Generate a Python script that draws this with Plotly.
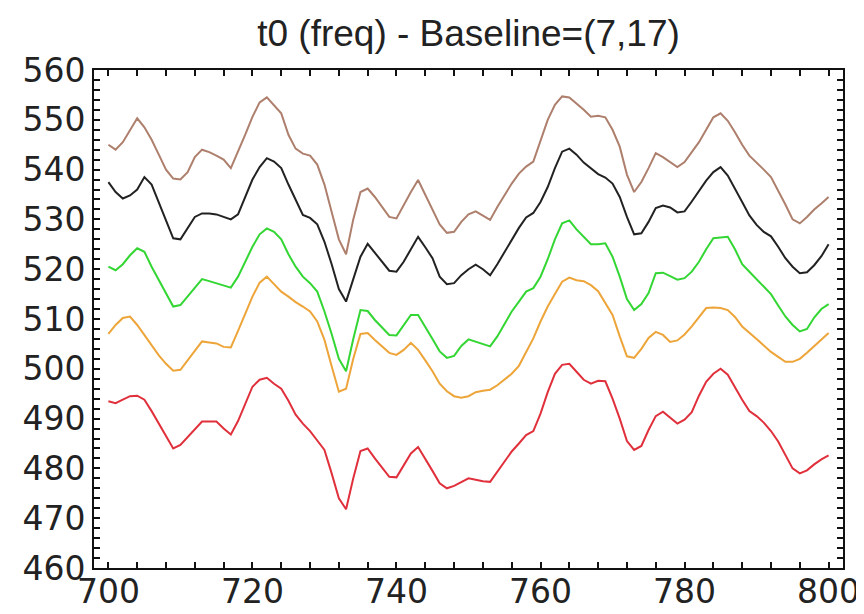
import plotly.graph_objects as go

x_vals = list(range(700, 801))

brown = [545, 544, 545.5, 548, 550.3, 548.5, 546, 543, 540, 538.2,
         538, 539.5, 542.5, 544, 543.5, 542.8, 542, 540.3, 543.5, 547,
         550.6, 553.5, 554.5, 553, 551.3, 547, 544.2, 543.2, 542.8, 541,
         537, 531.5, 526, 523, 530, 535.5, 536.2, 534.5, 532.5, 530.5,
         530.2, 533, 535.5, 537.9, 535, 532, 529, 527.3, 527.5, 529.5,
         531, 531.6, 530.8, 529.9, 532.5, 535, 537.2, 539.2, 540.6, 541.6,
         545.8, 550, 553, 554.7, 554.5, 553.3, 552, 550.6, 550.8, 550.5,
         548, 544.6, 539, 535.5, 537.5, 540.3, 543.3, 542.5, 541.5, 540.5,
         541.5, 543.5, 545.5, 548, 550.5, 551.3, 549.8, 547.5, 545, 542.8,
         541.5, 540, 538.5, 535.9, 533, 530, 529.2, 530.5, 532, 533.2,
         534.5]

black = [537.5, 535.5, 534.2, 534.8, 536, 538.5, 537, 533.5, 529.8, 526.2,
         526, 528.3, 530.5, 531.2, 531.2, 531, 530.5, 530, 531, 534.5,
         538, 540.5, 542.3, 541.6, 540.3, 537, 534, 530.9, 530.3, 529,
         525.5, 521, 516, 513.5, 518, 522.5, 525.1, 523.3, 521.5, 519.7,
         519.5, 521.5, 524, 526.5, 524.4, 522.2, 518.5, 517, 517.2, 518.8,
         520, 520.9, 520, 518.8, 521, 523.5, 526, 528.3, 530.4, 531.3,
         533.5, 536.5, 540.3, 543.6, 544.2, 543, 541.4, 540.2, 539.1, 538.4,
         537.2, 534.5, 530.5, 527, 527.2, 529.5, 532.3, 532.8, 532.4, 531.4,
         531.6, 533.6, 535.8, 537.8, 539.5, 540.5, 538.8, 536, 533.5, 530.8,
         528.9, 527.5, 526.6, 524.5, 522.2, 520.5, 519.2, 519.4, 520.8, 522.6,
         525]

green = [520.5, 519.8, 521, 522.8, 524.2, 523.5, 520.5, 517.8, 515, 512.5,
         512.8, 514.5, 516.2, 518, 517.6, 517.2, 516.8, 516.3, 518.5, 521.5,
         524.5, 527, 528.2, 527.5, 526, 523, 520.5, 518.5, 517.2, 515.5,
         511.5, 507, 502, 499.5, 506, 511.8, 511.6, 509.8, 508.2, 506.8,
         506.7, 508.7, 510.8, 510.8, 508.5, 506, 503.5, 502.2, 502.6, 504.6,
         505.9, 505.4, 505, 504.5, 506.5, 509, 511.5, 513.5, 515.5, 516.2,
         518.5, 522, 526, 529.2, 529.8, 528, 526.5, 525, 525, 525.2,
         522.5, 518.5, 514, 511.8, 513, 515.2, 519.2, 519.3, 518.6, 517.9,
         518.2, 519.5, 521.5, 524, 526.2, 526.4, 526.5, 524, 521, 519.5,
         518, 516.6, 515, 512.7, 510.5, 508.8, 507.5, 508, 510.3, 512,
         513]

orange = [507, 508.8, 510.2, 510.5, 508.8, 506.8, 504.6, 502.7, 501, 499.6,
          499.8, 501.7, 503.6, 505.5, 505.3, 505.1, 504.4, 504.3, 507.6, 511,
          514.5, 517.3, 518.5, 517, 515.5, 514.5, 513.4, 512.5, 511.5, 509.5,
          505.8, 500.5, 495.4, 496, 502, 507, 507.2, 505.8, 504.5, 503.2,
          502.8, 503.8, 505.2, 503.8, 501.7, 499.5, 497, 495.5, 494.5, 494.2,
          494.5, 495.3, 495.6, 495.8, 496.7, 497.8, 499, 500.6, 503.5, 506.1,
          509.5, 512.5, 515, 517.5, 518.3, 517.8, 517.6, 516.8, 515.6, 513.3,
          510.8, 506.5, 502.5, 502.2, 504, 506.2, 507.4, 506.8, 505.4, 505.7,
          506.9, 508.5, 510.3, 512.2, 512.3, 512.2, 511.8, 510.4, 508.5, 507.3,
          506, 504.7, 503.4, 502.4, 501.4, 501.4, 502, 503.2, 504.5, 506,
          507.2]

red = [493.5, 493.1, 493.8, 494.5, 494.6, 493.8, 491.5, 489, 486.5, 484,
       484.7, 486.3, 488, 489.4, 489.4, 489.4, 488, 486.8, 489.5, 493,
       496.4, 497.8, 498.2, 497, 496, 493.6, 490.8, 489, 487.5, 485.6,
       483.7, 479, 474, 471.8, 478, 483.5, 484, 482, 480.2, 478.3,
       478.2, 480.5, 483, 484.3, 482, 479.5, 477, 476, 476.5, 477.3,
       478, 477.7, 477.4, 477.3, 479.3, 481.3, 483.4, 485, 486.7, 487.5,
       491, 495.3, 499, 500.8, 501, 499.4, 497.8, 497, 497.6, 497.5,
       494, 490, 485.5, 483.7, 484.5, 487.7, 490.5, 491.4, 490.2, 489,
       489.8, 491.3, 494.6, 497.4, 499, 500, 498.8, 496.2, 493.8, 491.5,
       490.5, 489.2, 487.5, 485.4, 482.8, 480, 479, 479.6, 480.8, 481.8,
       482.6]

series = [
    ("brown", brown, "#ad7f6c"),
    ("black", black, "#222222"),
    ("green", green, "#33d633"),
    ("orange", orange, "#eda53a"),
    ("red", red, "#e0303c"),
]

title_text = "t0 (freq) - Baseline=(7,17)"

fig = go.Figure()
for name, ys, col in series:
    fig.add_trace(go.Scatter(x=x_vals, y=ys, mode="lines", name=name,
                             line=dict(color=col, width=2), showlegend=False))

# page body adds an 8px offset; figure sized to fit the 864x614 window
fig.update_layout(
    width=856, height=606,
    margin=dict(l=86, r=21, t=62, b=46, autoexpand=False),
    paper_bgcolor="white", plot_bgcolor="white",
    title=dict(text=title_text, x=0.5, xref="paper", xanchor="center", y=0.958, yanchor="middle",
               font=dict(family="Liberation Sans, Arial", size=37, color="#222222")),
)

axis_common = dict(
    showgrid=False, zeroline=False, showline=True, linecolor="#111111", linewidth=2,
    mirror="allticks", ticks="inside", ticklen=6, tickwidth=1.5, tickcolor="#111111",
    automargin=False,
    tickfont=dict(family="DejaVu Sans, Verdana", size=33, color="#222222"),
)

fig.update_xaxes(range=[698, 802], tick0=700, dtick=20, ticklabelstandoff=-7,
                 minor=dict(dtick=4, tick0=700, ticks="inside", ticklen=6, tickwidth=1.5, tickcolor="#111111"),
                 **axis_common)
fig.update_yaxes(range=[460, 560], tick0=460, dtick=10,
                 minor=dict(dtick=2, tick0=460, ticks="inside", ticklen=6, tickwidth=1.5, tickcolor="#111111"),
                 **axis_common)

fig.write_html("out.html")
